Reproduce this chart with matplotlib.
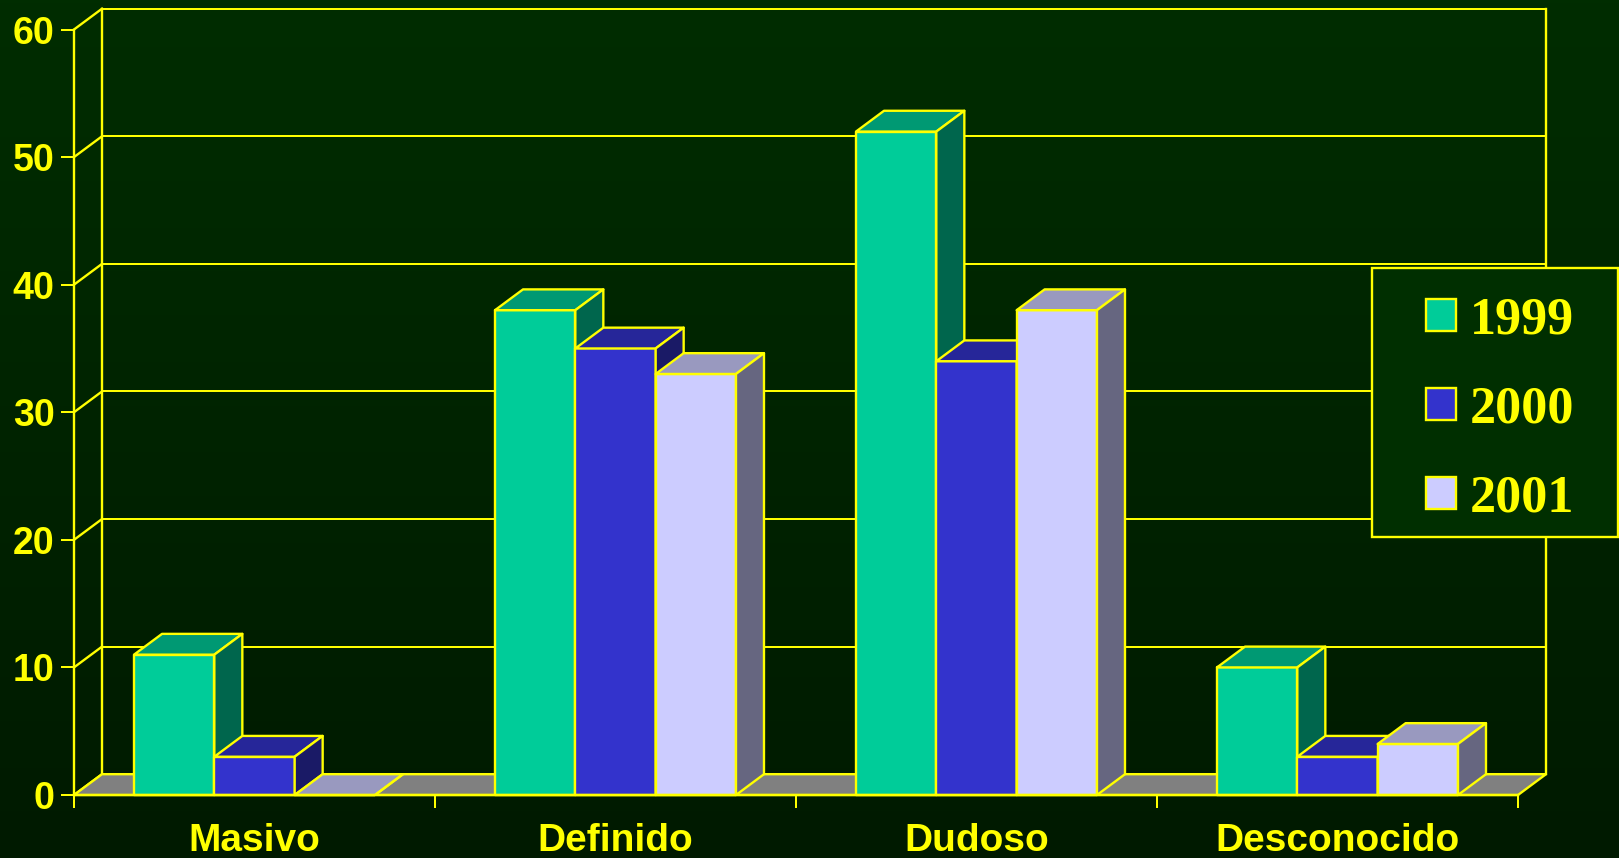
import numpy as np
import matplotlib
matplotlib.use("Agg")
import matplotlib.pyplot as plt
from matplotlib.patches import Patch, Polygon, Rectangle

categories = ['Masivo', 'Definido', 'Dudoso', 'Desconocido']
years = ['1999', '2000', '2001']
values_1999 = [11, 38, 52, 10]
values_2000 = [3, 35, 34, 3]
values_2001 = [0, 33, 38, 4]
y_ticks = [0, 10, 20, 30, 40, 50, 60]

YELLOW = '#FFFF00'
FRONT = ['#00CC99', '#3333CC', '#CCCCFF']
TOP = ['#009973', '#262699', '#9999BF']
SIDE = ['#00664D', '#1A1A66', '#666680']
FLOOR = '#808080'
LW = 1.7

W, H = 1619, 858
fig = plt.figure(figsize=(W / 100, H / 100), dpi=100)

# background gradient, dark green fading down
bg = fig.add_axes([0, 0, 1, 1], zorder=0)
bg.axis('off')
top_col = np.array([0, 45, 0]) / 255
bot_col = np.array([0, 26, 0]) / 255
t = np.linspace(0, 1, 256)[:, None, None]
bg.imshow(top_col + (bot_col - top_col) * t, aspect='auto', extent=(0, 1, 0, 1))

# pixel box of the front plane
x0, x1 = 74, 1518
y0, y60 = 795, 29.5
ax = fig.add_axes([x0 / W, 1 - y0 / H, (x1 - x0) / W, (y0 - y60) / H], zorder=1)
ax.patch.set_visible(False)
ax.set_xlim(0, len(categories))
ax.set_ylim(0, 60)

# 3d depth, in data units
dx = 28 / ((x1 - x0) / len(categories))
dy = 20.8 / ((y0 - y60) / 60)
bar_w = 0.2225


def poly(points, color, z):
    ax.add_patch(Polygon(points, closed=True, facecolor=color, edgecolor=YELLOW,
                         linewidth=LW, joinstyle='round', clip_on=False, zorder=z))


def draw_bar(x, v, i, z):
    poly([(x, v), (x + bar_w, v), (x + bar_w, 0), (x, 0)], FRONT[i], z)
    poly([(x, v), (x + dx, v + dy), (x + bar_w + dx, v + dy), (x + bar_w, v)], TOP[i], z)
    poly([(x + bar_w, v), (x + bar_w + dx, v + dy), (x + bar_w + dx, dy), (x + bar_w, 0)], SIDE[i], z)


n = len(categories)
poly([(0, 0), (dx, dy), (n + dx, dy), (n, 0)], FLOOR, 2)

# back wall grid
for v in y_ticks:
    ax.plot([dx, n + dx], [v + dy, v + dy], color=YELLOW, lw=LW * 0.85, clip_on=False, zorder=1)
    ax.plot([0, dx], [v, v + dy], color=YELLOW, lw=LW, clip_on=False, zorder=1)
ax.plot([dx, dx], [dy, 60 + dy], color=YELLOW, lw=LW, clip_on=False, zorder=1)
ax.plot([n + dx, n + dx], [dy, 60 + dy], color=YELLOW, lw=LW, clip_on=False, zorder=1)

series = [values_1999, values_2000, values_2001]
z = 3
for c in range(n):
    for i, vals in enumerate(series):
        x = c + 0.5 - 1.5 * bar_w + i * bar_w
        draw_bar(x, vals[c], i, z)
        z += 1

for side in ['top', 'right']:
    ax.spines[side].set_visible(False)
for side in ['left', 'bottom']:
    ax.spines[side].set_color(YELLOW)
    ax.spines[side].set_linewidth(LW)
    ax.spines[side].set_zorder(100)

ax.set_yticks(y_ticks)
ax.set_xticks(range(n + 1))
ax.set_xticklabels([])
ax.set_xticks(np.arange(n) + 0.5, minor=True)
ax.set_xticklabels(categories, minor=True)
for lab in ax.get_yticklabels():
    lab.set(family='Liberation Sans', weight='bold', size=27, color=YELLOW)
for lab in ax.get_xticklabels(minor=True):
    lab.set(family='Liberation Sans', weight='bold', size=28, color=YELLOW)
ax.tick_params(axis='y', which='major', length=9.4, width=LW * 0.85, color=YELLOW, pad=4.5)
ax.tick_params(axis='x', which='major', length=9.4, width=LW * 0.85, color=YELLOW)
ax.tick_params(axis='x', which='minor', length=0, pad=20.5)

# legend box
ax.add_patch(Rectangle((1372 / W, 1 - 537 / H), 246 / W, 269.5 / H, transform=fig.transFigure,
                       facecolor='#002f00', edgecolor=YELLOW, linewidth=LW,
                       clip_on=False, zorder=200))
handles = [Patch(facecolor=FRONT[i], edgecolor=YELLOW, linewidth=LW) for i in range(3)]
leg = ax.legend(handles, years, loc='center left',
                bbox_to_anchor=(1425.7 / W, 1 - 409.5 / H), bbox_transform=fig.transFigure,
                frameon=False, borderpad=0, borderaxespad=0,
                handlelength=0.58, handleheight=0.58, handletextpad=0.26, labelspacing=0.79,
                prop=dict(family='Liberation Serif', weight='bold', size=37.5),
                labelcolor=YELLOW)
leg.set_zorder(201)

fig.savefig('out.png', dpi=100)
